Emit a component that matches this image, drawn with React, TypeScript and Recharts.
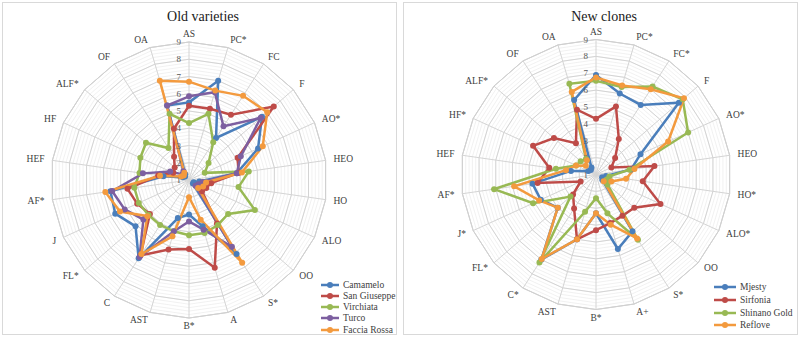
import React from 'react';
import { RadarChart, Radar, PolarGrid, PolarAngleAxis, PolarRadiusAxis, Legend } from 'recharts';

// axes of the two panels
const oldAxes = ['AS', 'PC*', 'FC', 'F', 'AO*', 'HEO', 'HO', 'ALO', 'OO', 'S*', 'A', 'B*', 'AST', 'C', 'FL*', 'J', 'AF*', 'HEF', 'HF', 'ALF*', 'OF', 'OA'];
const newAxes = ['AS', 'PC*', 'FC*', 'F', 'AO*', 'HEO', 'HO*', 'ALO*', 'OO', 'S*', 'A+', 'B*', 'AST', 'C*', 'FL*', 'J*', 'AF*', 'HEF', 'HF*', 'ALF*', 'OF', 'OA'];

// Old varieties
const camamelo = [5.5, 7.0, 3.9, 6.6, 5.4, 3.8, 1.6, 1.3, 1.3, 6.1, 3.8, 3.0, 3.3, 6.4, 5.1, 5.7, 5.6, 2.5, 1.4, 1.3, 1.4, 5.5];
const sanGiuseppe = [5.3, 5.3, 5.5, 7.5, 4.1, 3.9, 2.3, 2.1, 2.0, 4.0, 6.3, 5.0, 5.2, 6.2, 4.0, 4.3, 4.6, 2.8, 2.0, 2.1, 2.6, 4.1];
const virchiata = [4.3, 5.0, 3.6, 2.5, 2.0, 4.5, 3.9, 5.2, 4.0, 4.1, 4.2, 4.2, 4.1, 4.1, 4.1, 4.2, 4.2, 3.9, 4.1, 4.3, 3.2, 5.0];
const turco = [5.85, 6.3, 4.7, 6.5, 4.3, 3.8, 1.8, 1.6, 1.5, 5.6, 4.0, 3.4, 4.1, 6.3, 4.5, 5.1, 5.5, 3.7, 2.2, 1.5, 1.6, 5.5];
const facciaRossa = [6.7, 6.4, 6.8, 7.0, 5.7, 4.1, 2.0, 1.9, 1.7, 6.7, 3.4, 2.0, 4.4, 6.1, 4.2, 5.4, 5.9, 2.7, 1.5, 1.4, 1.5, 7.0];

// New clones
const mjesty = [6.9, 6.0, 5.9, 7.5, 3.9, 3.1, 1.6, 1.4, 1.5, 5.0, 5.6, 3.3, 5.0, 7.0, 4.0, 4.6, 4.8, 2.5, 1.5, 1.4, 1.5, 5.6];
const sirfonia = [4.3, 5.2, 3.5, 2.5, 2.0, 4.5, 3.8, 5.2, 4.0, 3.9, 4.0, 4.3, 5.0, 3.4, 2.8, 2.0, 4.5, 3.8, 5.1, 4.3, 3.2, 5.0];
const shinanoGold = [6.55, 6.4, 7.2, 7.8, 7.0, 3.0, 1.8, 1.7, 1.9, 5.6, 3.4, 2.4, 3.3, 7.2, 3.0, 5.1, 7.1, 3.4, 2.3, 2.2, 2.1, 6.6];
const reflove = [6.75, 6.5, 7.0, 7.9, 5.7, 3.3, 2.8, 2.0, 1.6, 5.5, 4.1, 3.3, 5.0, 6.95, 4.0, 4.7, 5.9, 2.8, 2.3, 1.8, 2.0, 6.1];

const radiusTicks = [1, 2, 3, 4, 5, 6, 7, 8, 9];
const RADIUS_MIN = 1;
const RADIUS_MAX = 9;
// minor gridlines every 0.2
const minorTicks = radiusTicks.slice(0, -1).flatMap((t) => [t, t + 0.2, t + 0.4, t + 0.6, t + 0.8]).concat([9]);

const BLUE = '#4a7ebb';
const RED = '#be4b48';
const GREEN = '#98b954';
const PURPLE = '#7d5fa0';
const ORANGE = '#f39a3e';

const SERIF = 'Liberation Serif, serif';

type Series = { name: string; values: number[]; color: string };

const oldSeries: Series[] = [
  { name: 'Camamelo', values: camamelo, color: BLUE },
  { name: 'San Giuseppe', values: sanGiuseppe, color: RED },
  { name: 'Virchiata', values: virchiata, color: GREEN },
  { name: 'Turco', values: turco, color: PURPLE },
  { name: 'Faccia Rossa', values: facciaRossa, color: ORANGE },
];

const newSeries: Series[] = [
  { name: 'Mjesty', values: mjesty, color: BLUE },
  { name: 'Sirfonia', values: sirfonia, color: RED },
  { name: 'Shinano Gold', values: shinanoGold, color: GREEN },
  { name: 'Reflove', values: reflove, color: ORANGE },
];

const AngleTick = (props: any) => {
  const { x, y, payload, textAnchor } = props;
  return (
    <text x={x} y={y} textAnchor={textAnchor} dominantBaseline="central" style={{ fontFamily: SERIF, fontSize: 9.5 }} fill="#404040">
      {payload.value}
    </text>
  );
};

// only whole numbers get a label, the rest are minor gridlines
const RadiusTick = (props: any) => {
  const { x, y, payload } = props;
  if (!radiusTicks.includes(payload.value)) return <g />;
  return (
    <text x={x - 8} y={y} textAnchor="end" dominantBaseline="central" style={{ fontFamily: SERIF, fontSize: 9 }} fill="#595959">
      {payload.value}
    </text>
  );
};

function LegendBox({ series, rowH, lineW }: { series: Series[]; rowH: number; lineW: number }) {
  return (
    <div>
      {series.map((s) => (
        <div key={s.name} style={{ display: 'flex', alignItems: 'center', height: rowH }}>
          <svg width={lineW} height={8} style={{ marginRight: 4 }}>
            <line x1={0} y1={4} x2={lineW} y2={4} stroke={s.color} strokeWidth={2.5} />
            <circle cx={lineW / 2} cy={4} r={3} fill={s.color} />
          </svg>
          <span style={{ fontFamily: SERIF, fontSize: 9.5, color: '#404040', whiteSpace: 'nowrap' }}>{s.name}</span>
        </div>
      ))}
    </div>
  );
}

type PanelProps = {
  title: string;
  axes: string[];
  series: Series[];
  left: number;
  cx: number;
  cy: number;
  outerRadius: number;
  legendLeft: number;
  legendTop: number;
  rowH: number;
  lineW: number;
  titleLeft: number;
};

function Panel(p: PanelProps) {
  const data = p.axes.map((axis, i) => {
    const row: Record<string, string | number> = { axis };
    p.series.forEach((s) => {
      row[s.name] = s.values[i];
    });
    return row;
  });
  // darker rings at the whole-number ticks
  const majorRings = radiusTicks.map((t) => ((t - RADIUS_MIN) / (RADIUS_MAX - RADIUS_MIN)) * p.outerRadius);

  return (
    <div
      style={{
        position: 'absolute',
        left: p.left,
        top: 2,
        width: 395,
        height: 333,
        border: '1px solid #d9d9d9',
        boxSizing: 'border-box',
        background: '#fff',
      }}
    >
      <div
        style={{
          position: 'absolute',
          left: p.titleLeft,
          top: 6,
          width: 200,
          textAlign: 'center',
          fontFamily: SERIF,
          fontSize: 14,
          color: '#1a1a1a',
        }}
      >
        {p.title}
      </div>
      <RadarChart
        width={393}
        height={331}
        data={data}
        cx={p.cx}
        cy={p.cy}
        outerRadius={p.outerRadius}
        margin={{ top: 0, right: 0, bottom: 0, left: 0 }}
      >
        <PolarGrid radialLines={false} stroke="#ebebeb" strokeWidth={0.7} />
        <PolarGrid polarRadius={majorRings} stroke="#d4d4d4" />
        <PolarAngleAxis dataKey="axis" tick={<AngleTick />} tickSize={8} tickLine={false} axisLine={{ stroke: '#d0d0d0' }} />
        <PolarRadiusAxis angle={90} domain={[RADIUS_MIN, RADIUS_MAX]} ticks={minorTicks} tick={<RadiusTick />} axisLine={false} tickLine={false} />
        {p.series.map((s) => (
          <Radar
            key={s.name}
            name={s.name}
            dataKey={s.name}
            stroke={s.color}
            strokeWidth={2.5}
            fill={s.color}
            fillOpacity={0}
            dot={{ r: 3, fill: s.color, stroke: s.color, strokeWidth: 0, fillOpacity: 1 }}
            isAnimationActive={false}
          />
        ))}
        <Legend
          content={() => <LegendBox series={p.series} rowH={p.rowH} lineW={p.lineW} />}
          wrapperStyle={{ left: p.legendLeft, top: p.legendTop, width: 80 }}
        />
      </RadarChart>
    </div>
  );
}

export default function App() {
  return (
    <div style={{ position: 'absolute', left: 0, top: 0, width: 800, height: 338, background: '#fff' }}>
      <Panel
        title="Old varieties"
        axes={oldAxes}
        series={oldSeries}
        left={2}
        cx={186}
        cy={177}
        outerRadius={138}
        legendLeft={318}
        legendTop={276}
        rowH={11.25}
        lineW={18}
        titleLeft={100}
      />
      <Panel
        title="New clones"
        axes={newAxes}
        series={newSeries}
        left={403}
        cx={192}
        cy={171.5}
        outerRadius={135}
        legendLeft={310}
        legendTop={278}
        rowH={12.7}
        lineW={22}
        titleLeft={100}
      />
    </div>
  );
}
